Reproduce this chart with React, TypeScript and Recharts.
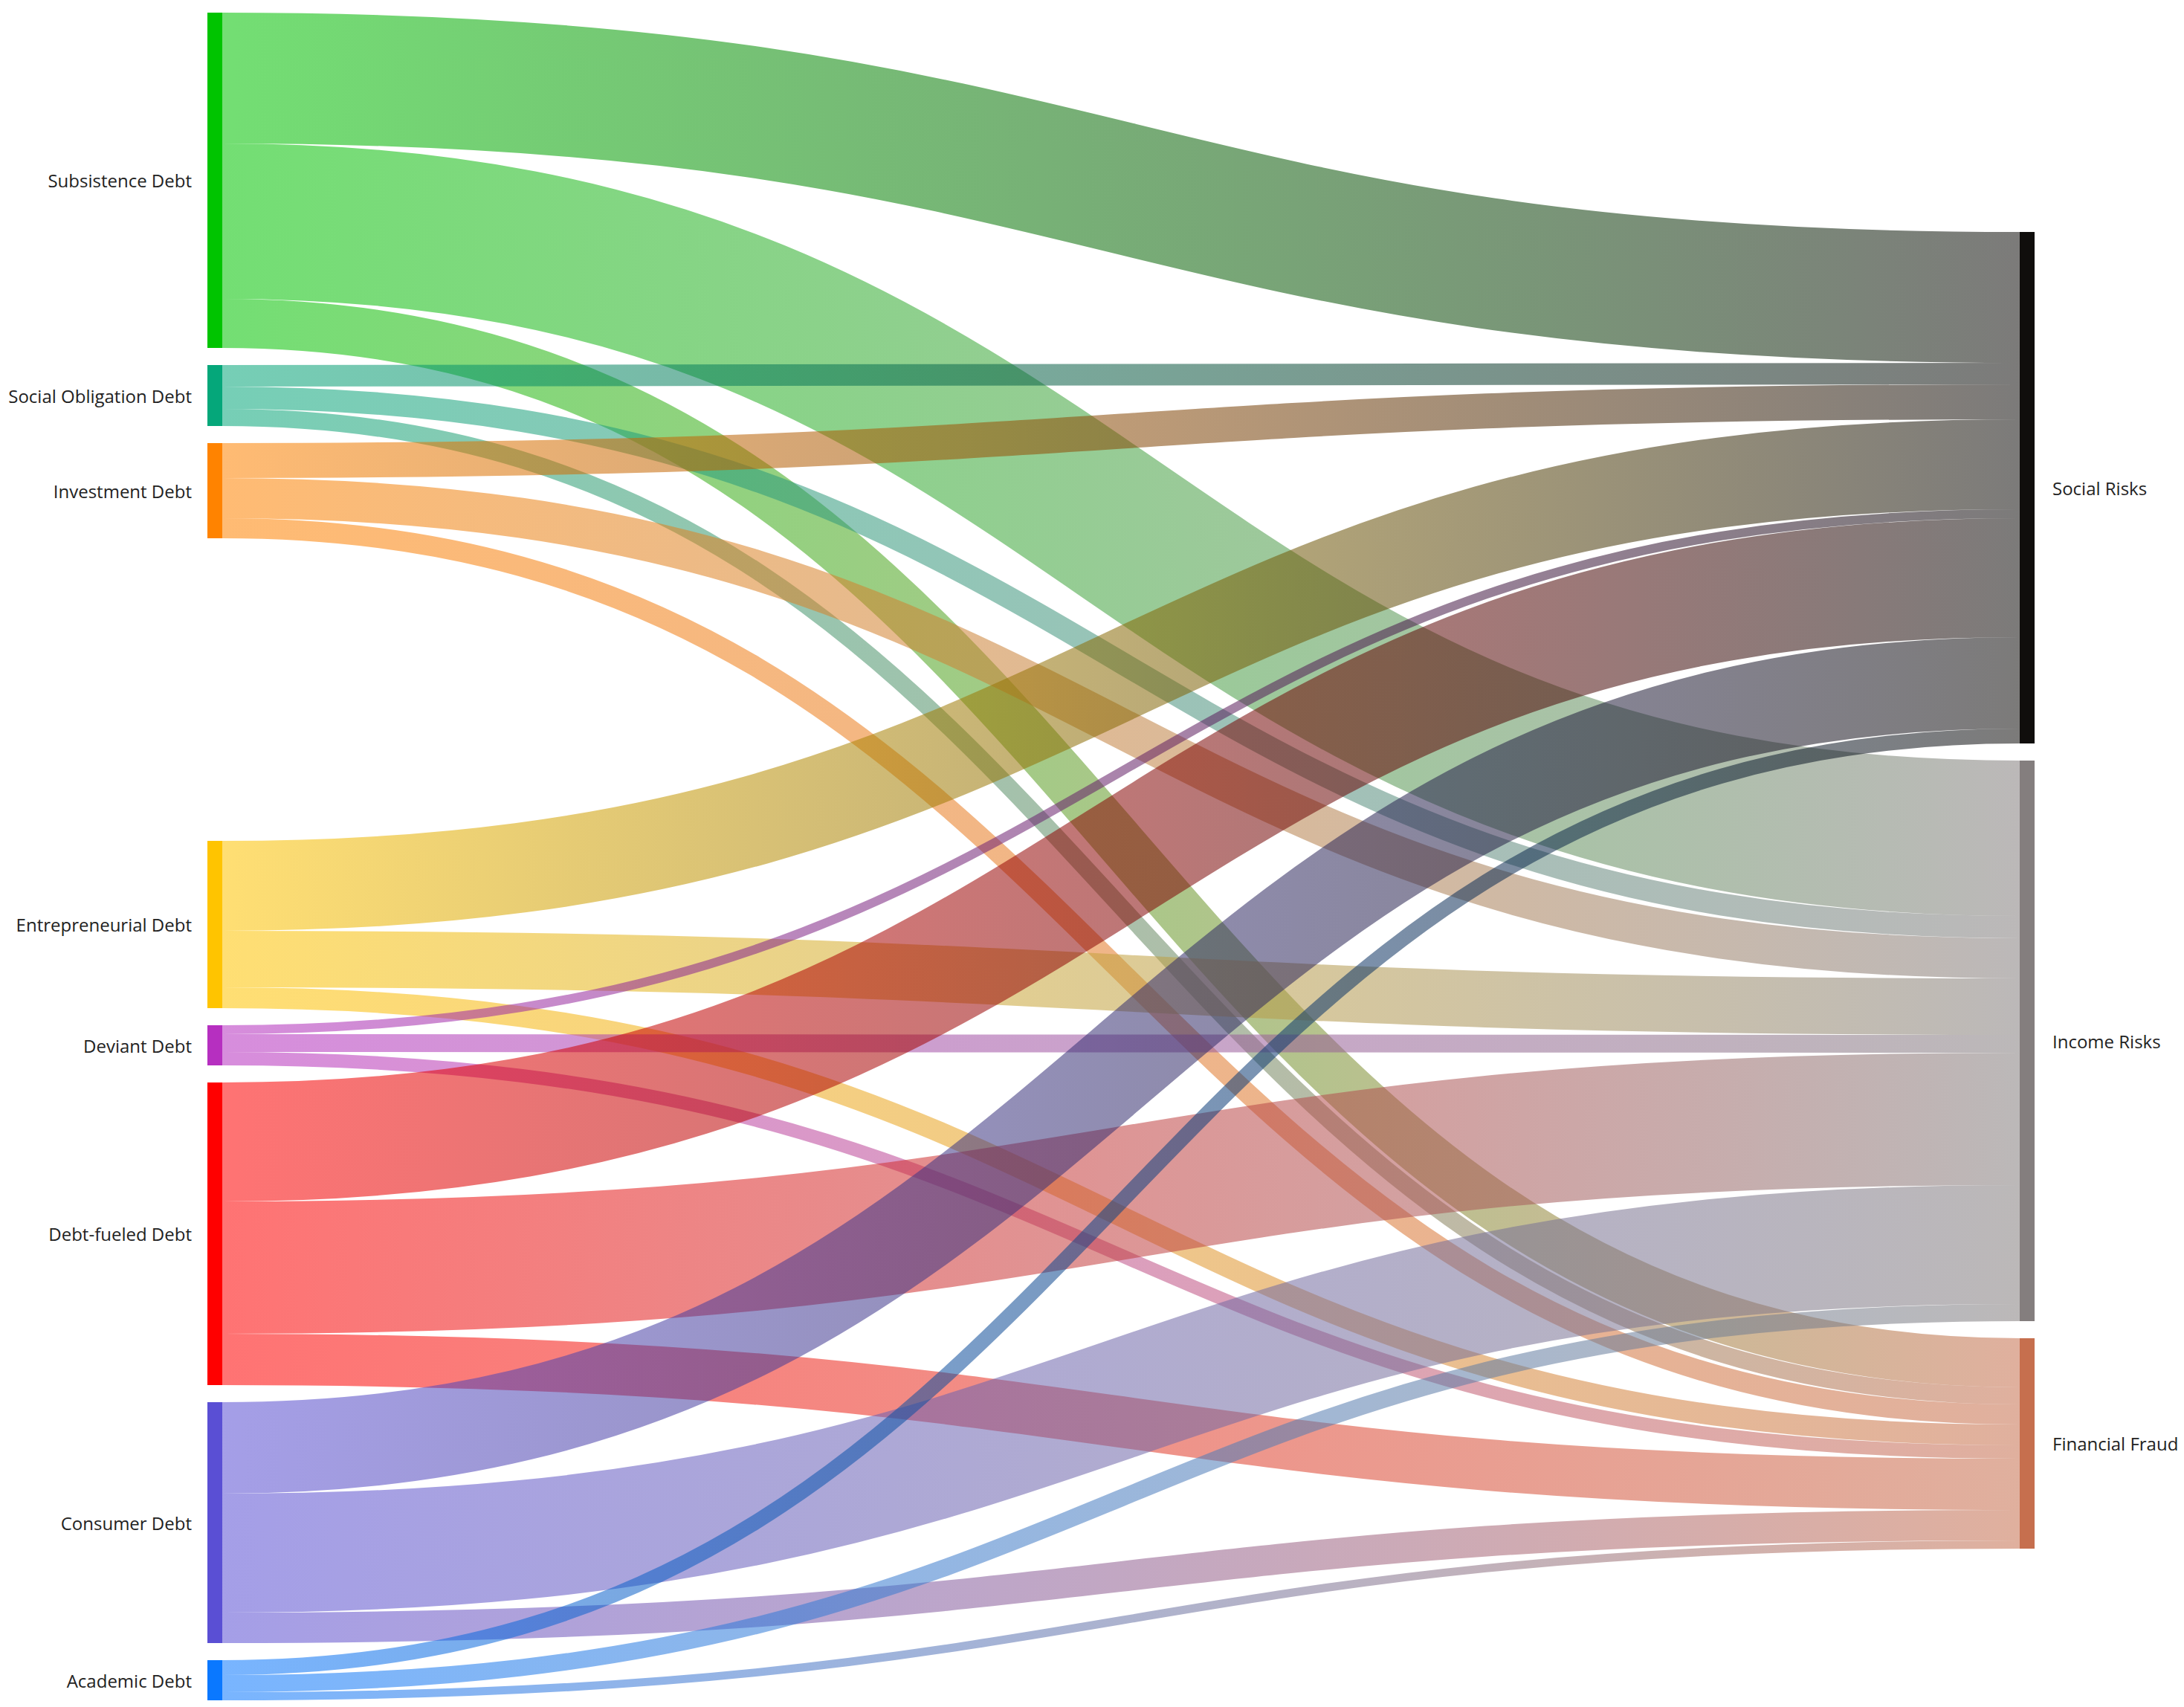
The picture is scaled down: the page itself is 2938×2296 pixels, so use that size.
import { Sankey } from "recharts";

// debt types (left column, top to bottom)
const debtTypes = [
  "Subsistence Debt",
  "Social Obligation Debt",
  "Investment Debt",
  "Entrepreneurial Debt",
  "Deviant Debt",
  "Debt-fueled Debt",
  "Consumer Debt",
  "Academic Debt",
];

// risk outcomes (right column, top to bottom)
const riskTypes = ["Social Risks", "Income Risks", "Financial Fraud"];

// flow from each debt type into each risk, same order as debtTypes
const socialRisks = [176, 29, 47, 121, 12, 160, 123, 20];
const incomeRisks = [209, 30, 54, 76, 24, 178, 160, 23];
const financialFraud = [66, 23, 27, 28, 18, 69, 41, 11];

const debtColors = [
  "#00c400",
  "#05a77a",
  "#ff8300",
  "#ffc400",
  "#b62fc0",
  "#ff0000",
  "#5a4fd4",
  "#0a78ff",
];
const riskColors = ["#100e0c", "#847e7e", "#c66f4e"];

const W = 2938;
const H = 2296;
const MARGIN = { top: 17, right: 201, bottom: 9, left: 279 };
const PAD = 23;
const NODE_W = 20;

// invisible spacer nodes reproduce the gaps of the original layout
const GAP_MID = 361;
const GAP_TOP = 272;

const buildData = () => {
  const flows = [socialRisks, incomeRisks, financialFraud];
  const nodes: any[] = [];
  const leftIdx: number[] = [];
  debtTypes.forEach((name, i) => {
    if (i === 3) nodes.push({ name: "", spacer: true });
    leftIdx.push(nodes.length);
    nodes.push({ name, color: debtColors[i] });
  });
  const spacerMid = 3;
  const spacerTop = nodes.length;
  nodes.push({ name: "", spacer: true });
  const rightIdx: number[] = [];
  riskTypes.forEach((name, j) => {
    rightIdx.push(nodes.length);
    nodes.push({ name, color: riskColors[j] });
  });
  const spacerBottom = nodes.length;
  nodes.push({ name: "", spacer: true });

  const links: any[] = [];
  debtTypes.forEach((_, i) => {
    flows.forEach((arr, j) => {
      links.push({ source: leftIdx[i], target: rightIdx[j], value: arr[i] });
    });
  });
  links.push({ source: spacerMid, target: spacerTop, value: GAP_TOP });
  links.push({ source: spacerMid, target: spacerBottom, value: GAP_MID - GAP_TOP });
  return { nodes, links };
};

const data = buildData();

const renderNode = (props: any) => {
  const { x, y, width, height, payload } = props;
  if (payload.spacer) return <g />;
  const isLeft = x < W / 2;
  return (
    <g>
      <rect x={x} y={y} width={width} height={height} fill={payload.color} />
      <text
        x={isLeft ? x - 21 : x + width + 24}
        y={y + height / 2}
        textAnchor={isLeft ? "end" : "start"}
        dominantBaseline="central"
        fontFamily="'Open Sans', sans-serif"
        fontSize={24}
        fill="#222"
      >
        {payload.name}
      </text>
    </g>
  );
};

const renderLink = (props: any) => {
  const {
    sourceX,
    targetX,
    sourceY,
    targetY,
    sourceControlX,
    targetControlX,
    linkWidth,
    index,
    payload,
  } = props;
  if (payload.source.spacer) return <g />;
  const id = `link-grad-${index}`;
  return (
    <g>
      <defs>
        <linearGradient id={id} gradientUnits="userSpaceOnUse" x1={sourceX} y1={0} x2={targetX} y2={0}>
          <stop offset="0%" stopColor={payload.source.color} />
          <stop offset="100%" stopColor={payload.target.color} />
        </linearGradient>
      </defs>
      <path
        d={`M${sourceX},${sourceY}C${sourceControlX},${sourceY} ${targetControlX},${targetY} ${targetX},${targetY}`}
        fill="none"
        stroke={`url(#${id})`}
        strokeWidth={linkWidth}
        strokeOpacity={0.55}
      />
    </g>
  );
};

export default function App() {
  return (
    <div style={{ position: "absolute", left: 0, top: 0, width: W, height: H, background: "#fff" }}>
      <Sankey
        width={W}
        height={H}
        data={data}
        nodeWidth={NODE_W}
        nodePadding={PAD}
        iterations={0}
        sort={false}
        linkCurvature={0.5}
        margin={MARGIN}
        node={renderNode}
        link={renderLink}
      />
    </div>
  );
}
